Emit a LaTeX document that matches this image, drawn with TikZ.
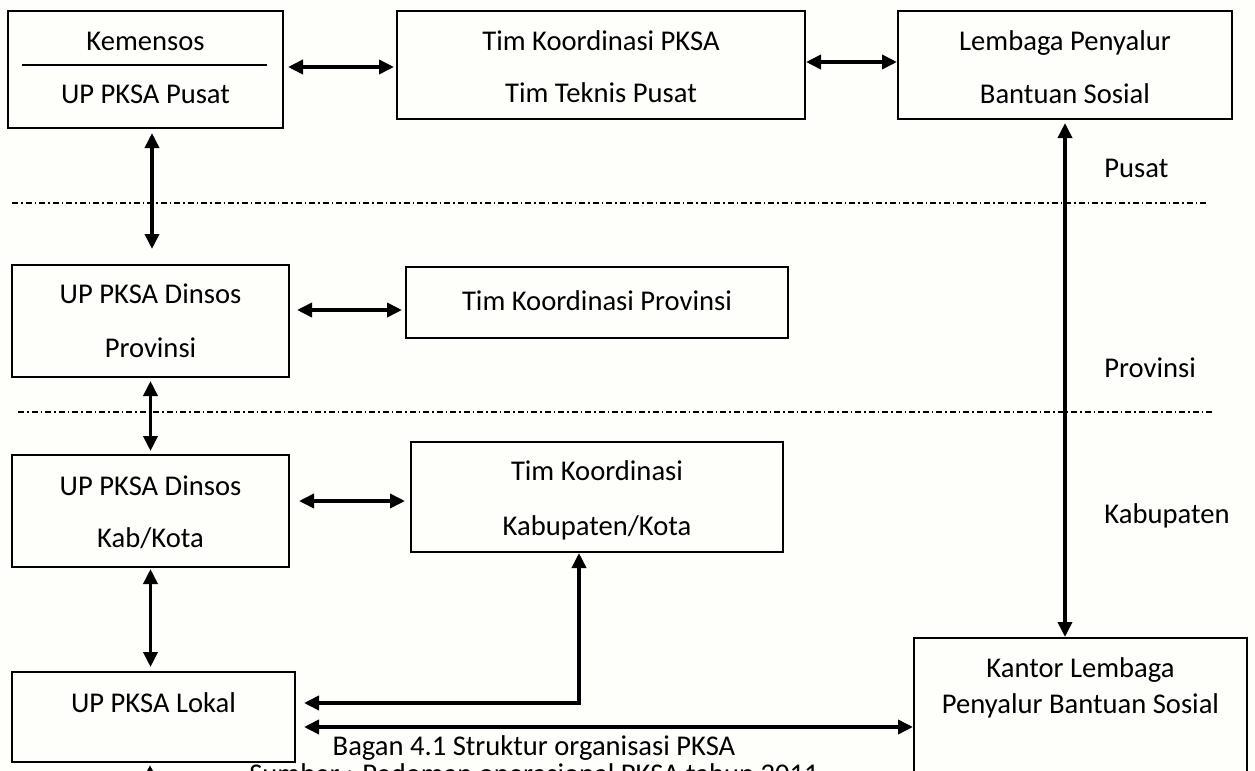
\documentclass[tikz,border=0pt]{standalone}
\usepackage{fontspec}
\setmainfont{Carlito}
\usetikzlibrary{arrows.meta}
\definecolor{bgcol}{RGB}{254,254,250}
\begin{document}
\begin{tikzpicture}[x=0.5pt,y=-0.5pt,
  box/.style={draw, line width=1pt, inner sep=0pt, rectangle},
  txt/.style={inner sep=0pt, anchor=base, font=\fontsize{14.3}{17}\selectfont},
  side/.style={txt, anchor=base west},
  link/.style={line width=1.8pt, {Triangle[length=7.5pt,width=7pt]}-{Triangle[length=7.5pt,width=7pt]}},
  uplink/.style={line width=1.8pt, -{Triangle[length=7.5pt,width=7pt]}},
  sep/.style={line width=0.75pt, dash pattern=on 3pt off 1.5pt on 0.75pt off 1.5pt}]
\useasboundingbox (0,0) rectangle (1255,771);
\clip (0,0) rectangle (1255,771);
\fill[bgcol] (0,0) rectangle (1255,771);

% boxes
\node[box, minimum width=137.5pt, minimum height=58.5pt] (kem) at (145.5,69.5) {};
\draw[line width=0.6pt] (22,65) -- (267,65);
\node[box, minimum width=204pt, minimum height=54pt] (timp) at (601,65) {};
\node[box, minimum width=167pt, minimum height=54pt] (lemb) at (1065,65) {};
\node[box, minimum width=138.5pt, minimum height=56pt] (prov) at (150.5,321) {};
\node[box, minimum width=191pt, minimum height=35.5pt] (timprov) at (597,302.5) {};
\node[box, minimum width=138.5pt, minimum height=56pt] (kab) at (150.5,511) {};
\node[box, minimum width=186pt, minimum height=55pt] (timkab) at (597,497) {};
\node[box, minimum width=141.5pt, minimum height=45pt] (lokal) at (153.5,717) {};
\node[box, minimum width=166.5pt, minimum height=131pt] (kantor) at (1080.5,769) {};

% texts
\node[txt] (kem1) at (145.5,50) {Kemensos};
\node[txt] (kem2) at (145.5,103) {UP PKSA Pusat};
\node[txt] (timp1) at (601,50) {Tim Koordinasi PKSA};
\node[txt] (timp2) at (601,102) {Tim Teknis Pusat};
\node[txt] (lemb1) at (1065,50) {Lembaga Penyalur};
\node[txt] (lemb2) at (1065,103) {Bantuan Sosial};
\node[txt] (prov1) at (150.5,303) {UP PKSA Dinsos};
\node[txt] (prov2) at (150.5,357) {Provinsi};
\node[txt] (timprov1) at (597,310) {Tim Koordinasi Provinsi};
\node[txt] (kab1) at (150.5,495) {UP PKSA Dinsos};
\node[txt] (kab2) at (150.5,547) {Kab/Kota};
\node[txt] (timkab1) at (597,480) {Tim Koordinasi};
\node[txt] (timkab2) at (597,535) {Kabupaten/Kota};
\node[txt] (lokal1) at (153.5,712) {UP PKSA Lokal};
\node[txt] (kantor1) at (1080.5,677) {Kantor Lembaga};
\node[txt] (kantor2) at (1080.5,713) {Penyalur Bantuan Sosial};
\node[side] (pusat) at (1104,177) {Pusat};
\node[side] (provinsi) at (1104,377) {Provinsi};
\node[side] (kabupaten) at (1104,523) {Kabupaten};
\node[txt] (cap1) at (534,755) {Bagan 4.1 Struktur organisasi PKSA};
\node[txt] (cap2) at (534,783) {Sumber : Pedoman operasional PKSA tahun 2011};

% level separators
\coordinate (s1a) at (12,203);
\coordinate (s1b) at (1208,203);
\coordinate (s2a) at (18,412);
\coordinate (s2b) at (1215,412);
\draw[sep] (s1a) -- (s1b);
\draw[sep] (s2a) -- (s2b);

% connectors
\draw[link, shorten <=2pt, shorten >=1pt] ([yshift=1.25pt]kem.east) -- ([yshift=1.25pt]kem.east -| timp.west);
\draw[link] ([yshift=1.5pt]timp.east) -- ([yshift=1.5pt]timp.east -| lemb.west);
\draw[link, shorten <=1.5pt] (lemb.south) -- (lemb.south |- kantor.north);
\draw[link, shorten <=2pt, shorten >=7.5pt] ([xshift=0.75pt]prov.north |- kem.south) -- ([xshift=0.75pt]prov.north);
\draw[link, shorten <=3.5pt, shorten >=1.5pt] ([yshift=5.5pt]prov.east) -- ([yshift=5.5pt]prov.east -| timprov.west);
\draw[link, shorten <=1.5pt, shorten >=1.5pt] (prov.south) -- (kab.north);
\draw[link, shorten <=4.5pt, shorten >=2.5pt] ([yshift=5pt]kab.east) -- ([yshift=5pt]kab.east -| timkab.west);
\draw[link, shorten <=0.5pt, shorten >=2pt] (kab.south) -- (kab.south |- lokal.north);
\draw[link, shorten <=4pt] ([yshift=7pt]lokal.east) -| ([xshift=-9pt]timkab.south);
\draw[link, shorten <=4pt] ([yshift=-5pt]lokal.east) -- ([yshift=-5pt]lokal.east -| kantor.west);
\coordinate (lokalsrc) at (150,830);
\draw[uplink, shorten >=1pt] (lokalsrc) -- ([xshift=-1.75pt]lokal.south);
\end{tikzpicture}
\end{document}
